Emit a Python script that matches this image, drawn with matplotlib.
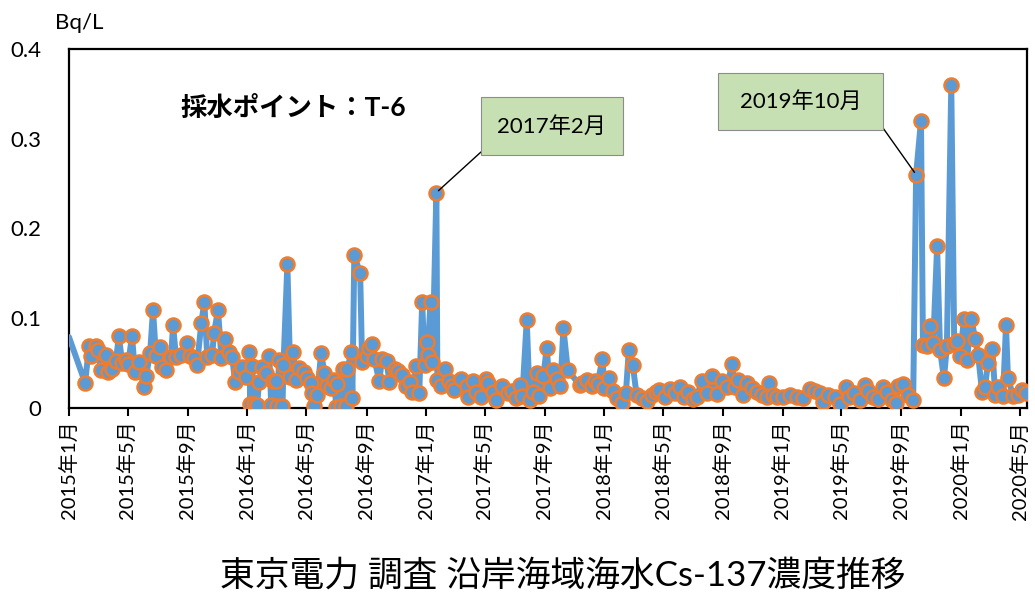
import matplotlib
matplotlib.use("Agg")
import matplotlib.pyplot as plt
from matplotlib.patches import Rectangle
import pandas as pd

plt.rcParams['font.family'] = ['Lato', 'Noto Sans CJK JP', 'DejaVu Sans']

# ---------------- data ----------------
dates = [
    "2015-01-01", "2015-02-03", "2015-02-11", "2015-02-15", "2015-02-25", "2015-03-01", "2015-03-08",
    "2015-03-18", "2015-03-22", "2015-03-30", "2015-04-07", "2015-04-13", "2015-04-20", "2015-04-28",
    "2015-05-02", "2015-05-10", "2015-05-16", "2015-05-24", "2015-06-04", "2015-06-08", "2015-06-16",
    "2015-06-22", "2015-06-28", "2015-07-07", "2015-07-11", "2015-07-19", "2015-07-29", "2015-08-02",
    "2015-08-08", "2015-08-19", "2015-08-31", "2015-09-06", "2015-09-14", "2015-09-20", "2015-09-29",
    "2015-10-05", "2015-10-11", "2015-10-21", "2015-10-25", "2015-11-02", "2015-11-09", "2015-11-17",
    "2015-11-25", "2015-12-01", "2015-12-07", "2015-12-15", "2015-12-22", "2015-12-30",
    "2016-01-05", "2016-01-07", "2016-01-11", "2016-01-15", "2016-01-21", "2016-01-25", "2016-02-01",
    "2016-02-09", "2016-02-15", "2016-02-19", "2016-02-23", "2016-02-29", "2016-03-02", "2016-03-06",
    "2016-03-13", "2016-03-15", "2016-03-23", "2016-03-29", "2016-04-04", "2016-04-10", "2016-04-16",
    "2016-04-27", "2016-05-03", "2016-05-11", "2016-05-13", "2016-05-17", "2016-05-23", "2016-05-31",
    "2016-06-07", "2016-06-13", "2016-06-21", "2016-06-27", "2016-07-01", "2016-07-03", "2016-07-11",
    "2016-07-14", "2016-07-22", "2016-07-24", "2016-08-01", "2016-08-03", "2016-08-07", "2016-08-19",
    "2016-08-23", "2016-09-01", "2016-09-07", "2016-09-13", "2016-09-17", "2016-09-27", "2016-10-03",
    "2016-10-12", "2016-10-18", "2016-10-30", "2016-11-05", "2016-11-13", "2016-11-20", "2016-11-28",
    "2016-12-04", "2016-12-12", "2016-12-18", "2016-12-24", "2016-12-29",
    "2017-01-02", "2017-01-04", "2017-01-10", "2017-01-14", "2017-01-22", "2017-01-24", "2017-02-01",
    "2017-02-08", "2017-02-16", "2017-02-24", "2017-02-28", "2017-03-14", "2017-03-25", "2017-03-27",
    "2017-04-06", "2017-04-14", "2017-04-24", "2017-05-03", "2017-05-07", "2017-05-17", "2017-05-25",
    "2017-06-06", "2017-06-17", "2017-06-25", "2017-07-05", "2017-07-13", "2017-07-17", "2017-07-26",
    "2017-08-01", "2017-08-07", "2017-08-15", "2017-08-21", "2017-08-29", "2017-09-05", "2017-09-11",
    "2017-09-17", "2017-09-25", "2017-10-03", "2017-10-09", "2017-10-18", "2017-11-11", "2017-11-17",
    "2017-11-26", "2017-12-06", "2017-12-12", "2017-12-18", "2017-12-28",
    "2018-01-01", "2018-01-10", "2018-01-18", "2018-01-26", "2018-02-05", "2018-02-14", "2018-02-20",
    "2018-02-28", "2018-03-08", "2018-03-18", "2018-03-29", "2018-04-08", "2018-04-16", "2018-04-22",
    "2018-05-04", "2018-05-15", "2018-05-25", "2018-06-04", "2018-06-12", "2018-06-21", "2018-07-01",
    "2018-07-09", "2018-07-19", "2018-07-30", "2018-08-09", "2018-08-19", "2018-08-29", "2018-09-09",
    "2018-09-19", "2018-09-25", "2018-10-01", "2018-10-11", "2018-10-19", "2018-10-30", "2018-11-09",
    "2018-11-19", "2018-11-30", "2018-12-04", "2018-12-12", "2018-12-20",
    "2019-01-01", "2019-01-16", "2019-01-30", "2019-02-11", "2019-02-26", "2019-03-08", "2019-03-18",
    "2019-03-24", "2019-04-04", "2019-04-18", "2019-04-28", "2019-05-10", "2019-05-17", "2019-05-27",
    "2019-06-08", "2019-06-18", "2019-06-24", "2019-07-05", "2019-07-15", "2019-07-25", "2019-08-02",
    "2019-08-13", "2019-08-21", "2019-08-25", "2019-09-04", "2019-09-14", "2019-09-25", "2019-10-01",
    "2019-10-11", "2019-10-15", "2019-10-23", "2019-10-30", "2019-11-05", "2019-11-13", "2019-11-19",
    "2019-11-27", "2019-12-03", "2019-12-12", "2019-12-18", "2019-12-24", "2019-12-30",
    "2020-01-07", "2020-01-13", "2020-01-22", "2020-01-30", "2020-02-05", "2020-02-13", "2020-02-19",
    "2020-02-25", "2020-03-05", "2020-03-11", "2020-03-17", "2020-03-27", "2020-04-02", "2020-04-06",
    "2020-04-17", "2020-04-27", "2020-05-05", "2020-05-13",
]
values = [
    0.079, 0.028, 0.069, 0.058, 0.069, 0.065, 0.042,
    0.059, 0.040, 0.043, 0.052, 0.080, 0.050, 0.054,
    0.049, 0.080, 0.040, 0.051, 0.023, 0.036, 0.061,
    0.109, 0.058, 0.068, 0.046, 0.042, 0.057, 0.092,
    0.057, 0.059, 0.072, 0.058, 0.056, 0.048, 0.095,
    0.118, 0.057, 0.059, 0.084, 0.109, 0.056, 0.077,
    0.062, 0.057, 0.029, 0.040, 0.046, 0.035,
    0.062, 0.005, 0.047, 0.004, 0.003, 0.029, 0.046,
    0.039, 0.058, 0.003, 0.030, 0.030, 0.002, 0.053,
    0.002, 0.048, 0.160, 0.035, 0.062, 0.031, 0.045,
    0.040, 0.033, 0.028, 0.017, 0.002, 0.014, 0.061,
    0.039, 0.025, 0.022, 0.031, 0.001, 0.027, 0.002,
    0.043, 0.002, 0.044, 0.062, 0.011, 0.170, 0.150,
    0.051, 0.058, 0.067, 0.071, 0.055, 0.030, 0.055,
    0.052, 0.029, 0.043, 0.041, 0.037, 0.024, 0.029,
    0.018, 0.047, 0.017, 0.118, 0.048,
    0.073, 0.059, 0.118, 0.051, 0.240, 0.031, 0.024,
    0.043, 0.030, 0.025, 0.020, 0.032, 0.024, 0.012,
    0.030, 0.018, 0.012, 0.032, 0.028, 0.018, 0.009,
    0.025, 0.017, 0.019, 0.011, 0.026, 0.013, 0.098,
    0.009, 0.018, 0.039, 0.013, 0.036, 0.067, 0.022,
    0.042, 0.032, 0.024, 0.089, 0.042, 0.026, 0.028,
    0.031, 0.025, 0.030, 0.027, 0.055,
    0.022, 0.033, 0.019, 0.011, 0.006, 0.017, 0.065,
    0.048, 0.014, 0.011, 0.008, 0.014, 0.018, 0.020,
    0.012, 0.021, 0.017, 0.023, 0.012, 0.018, 0.010,
    0.012, 0.030, 0.017, 0.036, 0.016, 0.030, 0.023,
    0.049, 0.023, 0.031, 0.014, 0.028, 0.022, 0.018,
    0.014, 0.012, 0.028, 0.015, 0.012,
    0.012, 0.015, 0.012, 0.011, 0.021, 0.019, 0.017,
    0.007, 0.014, 0.012, 0.005, 0.023, 0.012, 0.017,
    0.009, 0.026, 0.019, 0.012, 0.010, 0.023, 0.018,
    0.009, 0.006, 0.025, 0.027, 0.014, 0.009, 0.260,
    0.320, 0.070, 0.069, 0.091, 0.072, 0.180, 0.065,
    0.033, 0.069, 0.360, 0.071, 0.075, 0.058,
    0.099, 0.053, 0.099, 0.077, 0.059, 0.018, 0.023,
    0.050, 0.066, 0.014, 0.023, 0.013, 0.092, 0.033,
    0.013, 0.015, 0.020, 0.017,
]
tick_dates = ["2015-01-01", "2015-05-01", "2015-09-01", "2016-01-01", "2016-05-01", "2016-09-01",
              "2017-01-01", "2017-05-01", "2017-09-01", "2018-01-01", "2018-05-01", "2018-09-01",
              "2019-01-01", "2019-05-01", "2019-09-01", "2020-01-01", "2020-05-01"]
y_ticks = [0, 0.1, 0.2, 0.3, 0.4]
y_tick_labels = ["0", "0.1", "0.2", "0.3", "0.4"]
callouts = [("2017年2月", "2017-01-22", 0.240), ("2019年10月", "2019-10-01", 0.260)]

# ---------------- plot ----------------
x = pd.to_datetime(dates)
fig = plt.figure(figsize=(10.35, 5.95), dpi=100)
ax = fig.add_axes([69 / 1035, 1 - 408 / 595, 958 / 1035, 359 / 595])

ax.plot(x, values, color='#5B9BD5', lw=4.3, solid_joinstyle='round', solid_capstyle='round',
        marker='o', markersize=10, markerfacecolor='#5B9BD5',
        markeredgecolor='#ED7D31', markeredgewidth=1.9,
        markevery=slice(1, None), zorder=3)

ax.set_xlim(pd.Timestamp("2015-01-01"), pd.Timestamp("2020-05-15"))
ax.set_ylim(0, 0.4)
ax.set_yticks(y_ticks)
ax.set_yticklabels(y_tick_labels, fontsize=16)
ax.tick_params(axis='y', length=0, pad=20)

tdates = pd.to_datetime(tick_dates)
ax.set_xticks(tdates)
ax.set_xticklabels([f"{d.year}年{d.month}月" for d in tdates], rotation=90, fontsize=14.5)
ax.tick_params(axis='x', direction='out', length=6, width=1.5, pad=3)

for s in ax.spines.values():
    s.set_color('black')
    s.set_linewidth(1.6)

# callout boxes
boxes = [(0.430, 0.705, 0.148, 0.161, (0.430, 0.713)),
         (0.6775, 0.774, 0.172, 0.159, (0.8497, 0.780))]
for (label, d, v), (bx, by, bw, bh, corner) in zip(callouts, boxes):
    ax.add_patch(Rectangle((bx, by), bw, bh, transform=ax.transAxes,
                           facecolor='#C6E0B4', edgecolor='#8c8c8c', lw=0.8, zorder=5))
    ax.text(bx + bw / 2, by + bh / 2, label, transform=ax.transAxes,
            ha='center', va='center', fontsize=16, zorder=6)
    ax.annotate('', xy=(pd.Timestamp(d), v), xycoords='data',
                xytext=corner, textcoords='axes fraction',
                arrowprops=dict(arrowstyle='-', color='black', lw=1.0,
                                shrinkA=0, shrinkB=2), zorder=4)

ax.text(0.116, 0.838, "採水ポイント：T-6", transform=ax.transAxes,
        ha='left', va='center', fontsize=19, fontweight='bold')

fig.text(55 / 1035, 1 - 23 / 595, "Bq/L", ha='left', va='center', fontsize=16)
fig.text(563 / 1035, 1 - 575 / 595, "東京電力 調査 沿岸海域海水Cs-137濃度推移",
         ha='center', va='center', fontsize=25)

fig.savefig("out.png", dpi=100)
